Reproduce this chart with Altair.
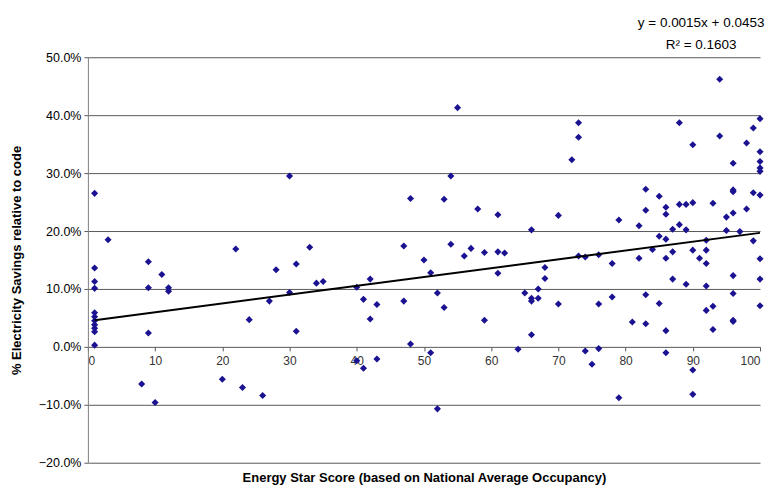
import altair as alt
import pandas as pd

# Energy Star score (x) and electricity savings in percent (y)
score = [
    1, 1, 1, 1, 1, 1, 1, 1, 1, 1, 1,
    3, 8, 9, 9, 9, 10, 11, 12, 12,
    20, 22, 23, 24, 26, 27, 28, 30, 30, 31, 31, 33, 34, 35,
    40, 40, 41, 41, 42, 42, 43, 43, 47, 47, 48, 48,
    50, 51, 51, 52, 52, 53, 53, 54, 54, 55, 56, 57, 58, 59, 59,
    61, 61, 61, 62, 64, 65, 66, 66, 66, 66, 67, 67, 68, 68,
    70, 70, 72, 73, 73, 73, 74, 74, 75, 76, 76, 76, 78, 78, 79, 79,
    81, 82, 82, 83, 83, 83, 83, 84, 85, 85, 85,
    86, 86, 86, 86, 86, 86, 87, 87, 87, 88, 88, 88, 89, 89, 89,
    90, 90, 90, 90, 90, 91, 92, 92, 92, 92, 92, 93, 93, 93, 94, 94, 95, 95,
    96, 96, 96, 96, 96, 96, 96, 96, 97, 98, 98, 99, 99, 99,
    100, 100, 100, 100, 100, 100, 100, 100, 100,
]
savings_pct = [
    26.5, 13.6, 11.3, 10.1, 5.9, 5.2, 4.5, 3.8, 3.2, 2.6, 0.3,
    18.5, -6.4, 14.7, 10.2, 2.4, -9.6, 12.5, 10.2, 9.6,
    -5.6, 16.9, -7.0, 4.7, -8.4, 7.9, 13.3, 29.5, 9.4, 14.3, 2.7, 17.2, 11.0, 11.3,
    10.3, -2.4, 8.2, -3.7, 11.7, 4.8, 7.3, -2.1, 17.4, 7.9, 25.6, 0.5,
    15.0, 12.8, -1.0, 9.3, -10.7, 25.5, 6.8, 29.5, 17.7, 41.3, 15.7, 17.0, 23.8, 16.3, 4.6,
    22.8, 16.4, 12.7, 16.2, -0.4, 9.3, 20.2, 8.4, 7.9, 2.1, 10.0, 8.4, 13.7, 11.8,
    22.7, 7.4, 32.3, 38.7, 36.2, 15.7, 15.5, -0.7, -3.0, 15.9, 7.4, -0.3, 14.4, 8.6, 21.9, -8.8,
    4.3, 20.9, 15.3, 27.2, 23.6, 9.0, 4.0, 16.8, 26.0, 19.1, 7.5,
    24.1, 22.9, 18.6, 15.3, 2.8, -1.0, 20.3, 16.4, 11.7, 38.7, 24.6, 21.1, 24.6, 20.2, 10.8,
    34.9, 24.9, 16.7, -4.0, -8.2, 15.3, 18.4, 16.7, 14.4, 10.5, 6.3, 24.8, 7.0, 3.0, 46.2, 36.4, 22.4, 20.1,
    31.7, 27.1, 26.8, 23.1, 12.3, 9.2, 4.6, 4.4, 19.9, 35.2, 23.8, 37.8, 26.6, 18.3,
    39.4, 33.7, 32.0, 30.9, 30.3, 26.2, 15.2, 11.7, 7.1,
]

x_ticks = list(range(0, 101, 10))
y_ticks = [-0.2, -0.1, 0.0, 0.1, 0.2, 0.3, 0.4, 0.5]

df = pd.DataFrame({"score": score, "savings": [v / 100 for v in savings_pct]})

FONT = "Liberation Sans"
W, H = 673, 406
zero_from_bottom = round(H * 0.2 / 0.7)

x_enc = alt.X(
    "score:Q",
    scale=alt.Scale(domain=[0, 100], nice=False, zero=False),
    axis=alt.Axis(
        values=x_ticks,
        offset=-zero_from_bottom,
        grid=False,
        domain=False,
        tickSize=4,
        tickColor="#555555",
        labelFontSize=12,
        labelColor="#333333",
        labelFont=FONT,
        labelPadding=5,
        title="Energy Star Score (based on National Average Occupancy)",
        titleFont=FONT,
        titleFontSize=13,
        titleFontWeight="bold",
        titleColor="#000000",
        titleBaseline="middle",
        titleY=zero_from_bottom + 15,
    ),
)
y_enc = alt.Y(
    "savings:Q",
    scale=alt.Scale(domain=[-0.2, 0.5], nice=False, zero=False),
    axis=alt.Axis(
        values=y_ticks,
        format=".1%",
        grid=True,
        gridColor="#595959",
        gridWidth=1,
        domain=True,
        domainColor="#808080",
        tickSize=4,
        tickColor="#595959",
        labelFontSize=12.5,
        labelColor="#000000",
        labelFont=FONT,
        labelPadding=3,
        title="% Electricity Savings relative to code",
        titleFont=FONT,
        titleFontSize=13,
        titleFontWeight="bold",
        titleColor="#000000",
        titleBaseline="middle",
        titleX=-71,
    ),
)

points = alt.Chart(df).mark_point(
    shape="diamond", filled=True, size=50, color="#1a1290", opacity=1
).encode(x=x_enc, y=y_enc)

trend = (
    alt.Chart(df)
    .transform_regression("score", "savings", extent=[1, 100])
    .mark_line(color="#000000", strokeWidth=2)
    .encode(x="score:Q", y="savings:Q")
)

chart = (
    alt.layer(points, trend)
    .properties(
        width=W,
        height=H,
        autosize=alt.AutoSizeParams(type="none"),
        padding={"left": 80, "top": 49, "right": 12, "bottom": 22},
        title=alt.TitleParams(
            text="y = 0.0015x + 0.0453",
            subtitle="R\u00b2 = 0.1603",
            anchor="end",
            align="center",
            dx=-63,
            font=FONT,
            fontSize=13.5,
            fontWeight="normal",
            color="#000000",
            subtitleFont=FONT,
            subtitleFontSize=13.5,
            subtitleColor="#000000",
            subtitlePadding=8,
            offset=0,
        ),
        background="#ffffff",
    )
    .configure_view(stroke=None)
)

chart.save("out.html", embed_options={"renderer": "svg", "actions": False})
